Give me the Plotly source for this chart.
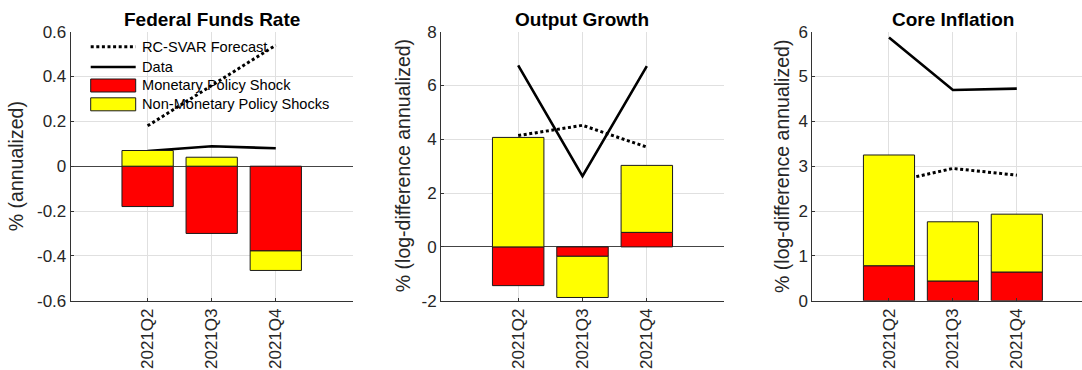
import plotly.graph_objects as go

W, H = 1082, 370

quarters = ["2021Q2", "2021Q3", "2021Q4"]

# Federal funds rate, % annualized
ffr_forecast = [0.18, 0.36, 0.54]
ffr_data = [0.068, 0.089, 0.080]
ffr_mp_shock = [-0.18, -0.30, -0.378]
ffr_non_mp_shocks = [0.07, 0.04, -0.087]

# Output growth, % log-difference annualized
gdp_forecast = [4.14, 4.52, 3.71]
gdp_data = [6.75, 2.63, 6.72]
gdp_mp_shock = [-1.44, -0.35, 0.54]
gdp_non_mp_shocks = [4.07, -1.53, 2.49]

# Core inflation, % log-difference annualized
inf_forecast = [2.63, 2.95, 2.80]
inf_data = [5.87, 4.70, 4.73]
inf_mp_shock = [0.78, 0.44, 0.64]
inf_non_mp_shocks = [2.47, 1.32, 1.29]

titles = ["Federal Funds Rate", "Output Growth", "Core Inflation"]
ylabels = ["% (annualized)", "% (log-difference annualized)", "% (log-difference annualized)"]

ffr_ticks = [-0.6, -0.4, -0.2, 0, 0.2, 0.4, 0.6]
ffr_ticktext = ["-0.6", "-0.4", "-0.2", "0", "0.2", "0.4", "0.6"]
gdp_ticks = [-2, 0, 2, 4, 6, 8]
gdp_ticktext = ["-2", "0", "2", "4", "6", "8"]
inf_ticks = [0, 1, 2, 3, 4, 5, 6]
inf_ticktext = ["0", "1", "2", "3", "4", "5", "6"]

legend_labels = ["RC-SVAR Forecast", "Data", "Monetary Policy Shock", "Non-Monetary Policy Shocks"]

RED = "#ff0000"
YELLOW = "#ffff00"
TEXT = "#262626"
AXIS = "#333333"
GRID = "#e0e0e0"
FONT = "Liberation Sans, Arial, sans-serif"


def px_x(v):
    return v / W


def px_y(v):
    return 1 - v / H


panels = [
    dict(data=ffr_data, fc=ffr_forecast, mp=ffr_mp_shock, nmp=ffr_non_mp_shocks,
         yr=[-0.6, 0.6], tv=ffr_ticks, tt=ffr_ticktext, xd=[70.7, 352.7], xr=[-1.2, 3.2],
         zero=True, ylab_x=16, title_x=212),
    dict(data=gdp_data, fc=gdp_forecast, mp=gdp_mp_shock, nmp=gdp_non_mp_shocks,
         yr=[-2, 8], tv=gdp_ticks, tt=gdp_ticktext, xd=[441, 724], xr=[-1.2, 3.2],
         zero=True, ylab_x=403, title_x=582),
    dict(data=inf_data, fc=inf_forecast, mp=inf_mp_shock, nmp=inf_non_mp_shocks,
         yr=[0, 6], tv=inf_ticks, tt=inf_ticktext, xd=[812.3, 1082], xr=[-1.2, 3.02],
         zero=False, ylab_x=781.7, title_x=953),
]

y_top, y_bot = 31.7, 300.7

fig = go.Figure()
layout = dict(
    width=W, height=H,
    margin=dict(l=0, r=0, t=0, b=0, autoexpand=False),
    paper_bgcolor="white", plot_bgcolor="white",
    barmode="relative", bargap=0.2,
    showlegend=False,
    font=dict(family=FONT, color=TEXT, size=17),
)
annotations = []
shapes = []

for i, p in enumerate(panels, start=1):
    xa = "x" if i == 1 else f"x{i}"
    ya = "y" if i == 1 else f"y{i}"
    yo = f"y{i + 3}"

    # lines on the base axes
    fig.add_trace(go.Scatter(x=quarters, y=p["fc"], mode="lines", xaxis=xa, yaxis=ya,
                             line=dict(color="black", width=3, dash="3px,2.6px")))
    fig.add_trace(go.Scatter(x=quarters, y=p["data"], mode="lines", xaxis=xa, yaxis=ya,
                             line=dict(color="black", width=2.6)))
    # stacked shock contributions on an overlay axis, so bars sit above the lines
    fig.add_trace(go.Bar(x=quarters, y=p["mp"], xaxis=xa, yaxis=yo, width=0.8,
                         marker=dict(color=RED, line=dict(color="#1a1a1a", width=1))))
    fig.add_trace(go.Bar(x=quarters, y=p["nmp"], xaxis=xa, yaxis=yo, width=0.8,
                         marker=dict(color=YELLOW, line=dict(color="#1a1a1a", width=1))))

    dom_x = [px_x(p["xd"][0]), px_x(p["xd"][1])]
    dom_y = [px_y(y_bot), px_y(y_top)]
    layout["xaxis" if i == 1 else f"xaxis{i}"] = dict(
        domain=dom_x, anchor=ya, type="category", range=p["xr"],
        categoryorder="array", categoryarray=quarters,
        tickangle=-90, ticks="inside", ticklen=3, tickcolor=AXIS,
        showgrid=True, gridcolor=GRID, gridwidth=1,
        showline=True, linecolor=AXIS, linewidth=1, zeroline=False,
        automargin=False,
        tickfont=dict(size=17, color=TEXT, family=FONT), fixedrange=True,
    )
    layout["yaxis" if i == 1 else f"yaxis{i}"] = dict(
        domain=dom_y, anchor=xa, range=p["yr"],
        tickmode="array", tickvals=p["tv"], ticktext=p["tt"],
        ticks="inside", ticklen=3, tickcolor=AXIS,
        showgrid=True, gridcolor=GRID, gridwidth=1,
        showline=True, linecolor=AXIS, linewidth=1,
        zeroline=p["zero"], zerolinecolor="#444444", zerolinewidth=1,
        automargin=False,
        tickfont=dict(size=17, color=TEXT, family=FONT), fixedrange=True,
    )
    layout[f"yaxis{i + 3}"] = dict(
        overlaying=ya, anchor=xa, range=p["yr"], visible=False,
        showgrid=False, zeroline=False, fixedrange=True, automargin=False,
    )

    annotations.append(dict(
        text=f"<b>{titles[i - 1]}</b>", xref="paper", yref="paper",
        x=px_x(p["title_x"]), y=px_y(19), xanchor="center", yanchor="middle",
        showarrow=False, font=dict(size=19, color="black", family=FONT),
    ))
    annotations.append(dict(
        text=ylabels[i - 1], xref="paper", yref="paper", textangle=-90,
        x=px_x(p["ylab_x"]), y=px_y((y_top + y_bot) / 2), xanchor="center", yanchor="middle",
        showarrow=False, font=dict(size=19.5, color=TEXT, family=FONT),
    ))

# legend drawn inside the first panel
leg_x0, leg_x1, leg_tx = 90.7, 135.7, 140
row_y = [46.7, 67, 85.5, 104.3]
shapes.append(dict(type="line", xref="paper", yref="paper",
                   x0=px_x(leg_x0), x1=px_x(leg_x1), y0=px_y(row_y[0]), y1=px_y(row_y[0]),
                   line=dict(color="black", width=3, dash="3px,2.6px")))
shapes.append(dict(type="line", xref="paper", yref="paper",
                   x0=px_x(leg_x0), x1=px_x(leg_x1), y0=px_y(row_y[1]), y1=px_y(row_y[1]),
                   line=dict(color="black", width=2.6)))
for ry, col in ((row_y[2], RED), (row_y[3], YELLOW)):
    shapes.append(dict(type="rect", xref="paper", yref="paper",
                       x0=px_x(leg_x0), x1=px_x(leg_x1), y0=px_y(ry - 6.5), y1=px_y(ry + 6.5),
                       fillcolor=col, line=dict(color="#1a1a1a", width=1)))
for ry, lab in zip(row_y, legend_labels):
    annotations.append(dict(
        text=lab, xref="paper", yref="paper", x=px_x(leg_tx), y=px_y(ry),
        xanchor="left", yanchor="middle", showarrow=False,
        font=dict(size=14.6, color="black", family=FONT),
    ))

layout["annotations"] = annotations
layout["shapes"] = shapes
fig.update_layout(**layout)
fig.write_html("out.html")
